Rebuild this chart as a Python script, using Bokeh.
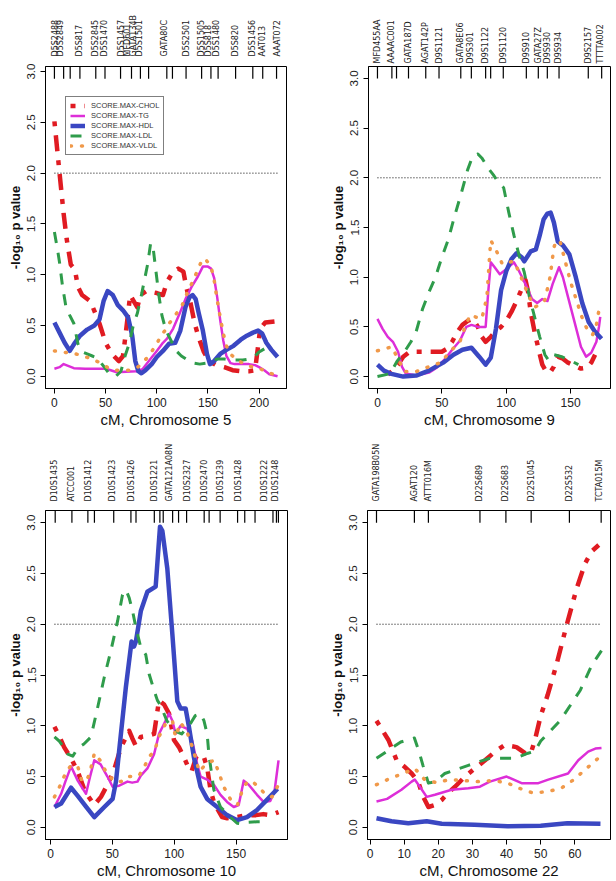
import math
from bokeh.plotting import figure
from bokeh.models import (Range1d, FixedTicker, PrintfTickFormatter, LinearAxis,
                          Legend, LegendItem)
from bokeh.layouts import column, row
from bokeh.embed import file_html
from bokeh.resources import INLINE

# ---------------- Chromosome 5 ----------------
chr5_chol_cm = [0, 5, 9, 12, 16, 20, 23, 27, 35, 40, 44, 50, 56, 63, 67, 70, 74, 78, 81, 84, 90, 100,
                106, 110, 116, 121, 126, 129, 133, 137, 141, 146, 151, 158, 166, 174, 182, 190, 196,
                199, 201, 206, 215]
chr5_chol = [2.51, 2.0, 1.6, 1.35, 1.1, 1.05, 0.88, 0.8, 0.74, 0.62, 0.52, 0.33, 0.22, 0.15, 0.2, 0.45,
             0.8, 0.73, 0.68, 0.8, 0.84, 0.82, 0.8, 0.93, 1.03, 1.06, 1.03, 0.87, 0.72, 0.52, 0.38, 0.24,
             0.15, 0.11, 0.09, 0.06, 0.05, 0.05, 0.06, 0.3, 0.47, 0.53, 0.54]
chr5_tg_cm = [0, 5, 9, 14, 19, 30, 40, 50, 55, 61, 70, 80, 86, 93, 100, 106, 110, 116, 122, 128, 134,
              140, 145, 150, 153, 156, 159, 162, 165, 168, 172, 176, 182, 190, 196, 200, 205, 210, 214, 218]
chr5_tg = [0.075, 0.09, 0.12, 0.1, 0.08, 0.075, 0.075, 0.075, 0.06, 0.04, 0.045, 0.05, 0.07, 0.16, 0.25,
           0.33, 0.37, 0.47, 0.61, 0.76, 0.88, 0.98, 1.08, 1.08, 1.06, 0.97, 0.78, 0.55, 0.35, 0.2, 0.13,
           0.12, 0.12, 0.12, 0.11, 0.09, 0.06, 0.02, 0.01, 0.0]
chr5_hdl_cm = [0, 5, 10, 15, 20, 25, 32, 39, 44, 48, 52, 57, 62, 67, 72, 76, 79, 82, 85, 89, 95, 100,
               106, 112, 118, 123, 128, 132, 135, 138, 141, 145, 149, 152, 156, 162, 168, 175, 182, 188,
               194, 199, 203, 207, 212, 218]
chr5_hdl = [0.53, 0.43, 0.33, 0.25, 0.33, 0.4, 0.46, 0.5, 0.56, 0.74, 0.84, 0.8, 0.7, 0.65, 0.58, 0.4,
            0.15, 0.05, 0.03, 0.06, 0.12, 0.19, 0.25, 0.32, 0.33, 0.45, 0.68, 0.78, 0.8, 0.76, 0.62, 0.45,
            0.22, 0.12, 0.15, 0.22, 0.26, 0.3, 0.36, 0.4, 0.43, 0.45, 0.42, 0.33, 0.26, 0.19]
chr5_ldl_cm = [0, 3, 5, 8, 11, 15, 19, 23, 27, 32, 37, 42, 48, 54, 60, 65, 69, 73, 77, 81, 85, 88, 91,
               94, 96, 99, 102, 105, 109, 114, 119, 124, 130, 136, 142, 148, 154, 160, 166, 172, 178,
               184, 190, 196, 200, 205, 210]
chr5_ldl = [1.42, 1.25, 1.12, 0.88, 0.7, 0.6, 0.52, 0.32, 0.24, 0.22, 0.2, 0.18, 0.1, 0.02, 0.0, 0.05,
            0.2, 0.32, 0.5, 0.62, 0.8, 0.95, 1.1, 1.31, 1.3, 1.05, 0.8, 0.6, 0.45, 0.35, 0.25, 0.2, 0.16,
            0.13, 0.12, 0.13, 0.16, 0.17, 0.17, 0.16, 0.16, 0.16, 0.17, 0.2, 0.24, 0.27, 0.3]
chr5_vldl_cm = [0, 7, 14, 21, 28, 34, 41, 47, 53, 58, 66, 73, 80, 86, 92, 96, 100, 104, 108, 112, 116,
                120, 124, 128, 132, 136, 140, 144, 147, 150, 153, 156, 159, 162, 165, 168, 172, 177,
                184, 190, 196, 202, 208, 214, 218]
chr5_vldl = [0.25, 0.24, 0.23, 0.22, 0.2, 0.18, 0.15, 0.12, 0.08, 0.06, 0.06, 0.06, 0.08, 0.13, 0.2,
             0.26, 0.32, 0.4, 0.45, 0.52, 0.57, 0.63, 0.68, 0.78, 0.87, 0.95, 1.05, 1.14, 1.16, 1.12,
             1.08, 0.95, 0.75, 0.58, 0.42, 0.3, 0.22, 0.17, 0.13, 0.1, 0.09, 0.07, 0.04, 0.02, 0.0]
chr5_marker_cm = [0, 9, 15.4, 24.9, 40.4, 49.4, 64.6, 75.3, 84, 92, 109.8, 115.3, 128.6, 143.8, 152.9,
                  159.9, 177, 193.8, 203.5, 217]
chr5_label_cm = [1, 5.8, 24.9, 40.4, 49.4, 65.3, 71.7, 76.9, 83.3, 107.5, 129.3, 143.8, 150.2, 158.3,
                 177, 193.8, 203.5, 218]
chr5_label_names = ["D5S2488", "D5S2849", "D5S817", "D5S2845", "D5S1470", "D5S1457", "MFD601",
                    "GATA134B", "D5S1501", "GATA80C", "D5S2501", "D5S1505", "D5S818", "D5S1480",
                    "D5S820", "D5S1456", "AAT013", "AAAT072"]
chr5_xticks = [0, 50, 100, 150, 200]

# ---------------- Chromosome 9 ----------------
chr9_chol_cm = [8, 12, 16, 20, 25, 30, 40, 50, 54, 58, 62, 66, 70, 74, 78, 81, 84, 88, 92, 96, 100, 104,
                108, 112, 115, 117, 119, 122, 125, 128, 131, 134, 137, 140, 144, 148, 153, 158, 163,
                166, 169]
chr9_chol = [0.02, 0.06, 0.12, 0.2, 0.25, 0.25, 0.25, 0.25, 0.28, 0.35, 0.45, 0.52, 0.56, 0.58, 0.5,
             0.4, 0.35, 0.4, 0.46, 0.5, 0.56, 0.65, 0.76, 0.88, 0.97, 0.85, 0.65, 0.45, 0.28, 0.12,
             0.05, 0.04, 0.1, 0.2, 0.18, 0.14, 0.11, 0.08, 0.09, 0.14, 0.22]
chr9_tg_cm = [0, 4, 8, 12, 16, 19, 22, 30, 40, 46, 52, 58, 64, 69, 73, 78, 84, 86, 88, 91, 95, 100, 106,
              110, 115, 120, 124, 128, 132, 136, 141, 144, 148, 153, 158, 162, 166, 170, 172, 173]
chr9_tg = [0.58, 0.48, 0.4, 0.35, 0.25, 0.1, 0.03, 0.01, 0.04, 0.09, 0.17, 0.27, 0.36, 0.5, 0.52, 0.5,
           0.5, 0.85, 1.15, 1.1, 1.03, 1.08, 1.15, 1.06, 0.93, 0.78, 0.74, 0.78, 0.76, 0.93, 1.1, 1.0,
           0.8, 0.55, 0.3, 0.2, 0.24, 0.35, 0.5, 0.6]
chr9_hdl_cm = [0, 5, 10, 20, 30, 40, 51, 59, 66, 73, 79, 84, 88, 92, 96, 100, 104, 108, 112, 114, 119,
               123, 126, 129, 132, 134.5, 137, 140, 144, 149, 154, 159, 164, 169, 174]
chr9_hdl = [0.12, 0.06, 0.03, 0.0, 0.01, 0.06, 0.14, 0.22, 0.27, 0.29, 0.2, 0.12, 0.19, 0.48, 0.87,
            1.06, 1.18, 1.24, 1.2, 1.16, 1.26, 1.28, 1.42, 1.58, 1.64, 1.65, 1.55, 1.36, 1.32, 1.23,
            1.0, 0.74, 0.55, 0.45, 0.38]
chr9_ldl_cm = [0, 10, 15, 21, 26, 30, 35, 40, 45, 50, 55, 60, 65, 70, 74, 78, 81, 84, 87, 90, 94, 98,
               102, 106, 110, 114, 118, 122, 126, 130, 133, 137, 143, 150, 156]
chr9_ldl = [0.0, 0.03, 0.15, 0.25, 0.35, 0.45, 0.68, 0.85, 1.0, 1.2, 1.38, 1.62, 1.84, 2.08, 2.22,
            2.24, 2.2, 2.14, 2.08, 2.03, 1.95, 1.9, 1.65, 1.42, 1.22, 1.05, 0.8, 0.6, 0.4, 0.22, 0.16,
            0.22, 0.2, 0.16, 0.12]
chr9_vldl_cm = [0, 6, 11, 16, 21, 30, 40, 49, 57, 64, 68, 72, 76, 81, 85, 87, 88, 91, 94, 97, 102, 106,
                110, 114, 118, 122, 126, 130, 134, 137, 139, 142, 146, 150, 155, 160, 164, 167, 170, 172]
chr9_vldl = [0.26, 0.28, 0.3, 0.18, 0.05, 0.05, 0.1, 0.14, 0.26, 0.35, 0.5, 0.62, 0.6, 0.58, 0.8, 1.2,
             1.37, 1.3, 1.22, 1.13, 1.15, 1.16, 1.05, 0.92, 0.8, 0.7, 0.72, 0.77, 1.0, 1.3, 1.37, 1.35,
             1.15, 0.95, 0.75, 0.55, 0.45, 0.42, 0.52, 0.67]
chr9_marker_cm = [0, 11.2, 14.8, 24.1, 37.5, 47.8, 64.7, 72.9, 84, 87.9, 97.7, 115.6, 124.9, 131.9,
                  141, 163.7, 174.1]
chr9_label_cm = [0, 11.1, 23.8, 37.5, 47.9, 64.2, 72.4, 83.6, 97.8, 115.6, 124.9, 131.9, 140.4, 163.7,
                 173.3]
chr9_label_names = ["MFD455AA", "AAAAC001", "GATA187D", "AGAT142P", "D9S1121", "GATA8E06", "D9S301",
                    "D9S1122", "D9S1120", "D9S910", "GATA27Z", "D9S930", "D9S934", "D9S2157",
                    "TTTTA002"]
chr9_xticks = [0, 50, 100, 150]

# ---------------- Chromosome 10 ----------------
chr10_chol_cm = [3.2, 7, 11, 16.6, 22, 28, 35.4, 40.8, 46, 51, 57, 63.6, 66, 69, 73, 78.3, 83.7, 87.7,
                 91.8, 95.8, 99.8, 103.8, 107.9, 111, 114, 118, 121.3, 124, 126.6, 129.3, 132, 135,
                 138.7, 142.7, 150, 158.8, 166, 172, 178, 184.3]
chr10_chol = [0.99, 0.9, 0.79, 0.68, 0.55, 0.35, 0.22, 0.3, 0.42, 0.55, 0.79, 0.95, 0.88, 0.8, 0.89,
              0.9, 0.92, 1.25, 1.21, 1.12, 0.86, 0.79, 0.69, 0.6, 0.55, 0.7, 0.72, 0.69, 0.59, 0.37,
              0.25, 0.18, 0.1, 0.09, 0.1, 0.12, 0.12, 0.13, 0.12, 0.15]
chr10_tg_cm = [3.2, 8.6, 12, 16.6, 22, 25, 28.7, 32, 35.4, 40.5, 46, 50.2, 55.5, 62.2, 66, 70.3, 73,
               78.3, 83.7, 87.7, 91.8, 95.8, 98.5, 101.1, 105.2, 110.5, 114.6, 118.6, 121.3, 126.6,
               132, 137.4, 142.7, 148.1, 152.1, 156.2, 160.2, 166.9, 172.2, 177.6, 181, 184.3]
chr10_tg = [0.2, 0.33, 0.45, 0.6, 0.46, 0.4, 0.33, 0.5, 0.66, 0.62, 0.5, 0.4, 0.41, 0.45, 0.44, 0.45,
            0.51, 0.58, 0.72, 0.92, 1.02, 1.12, 1.05, 0.92, 1.0, 0.97, 0.85, 0.62, 0.5, 0.47, 0.42,
            0.32, 0.25, 0.2, 0.22, 0.46, 0.42, 0.32, 0.25, 0.26, 0.35, 0.66]
chr10_hdl_cm = [3.2, 8.6, 16.6, 22, 29, 35.4, 43.5, 50.2, 52.9, 56.9, 60.9, 65.5, 67.5, 69, 73, 78.3,
                85, 88.5, 90.4, 94.4, 98.5, 102.5, 105.2, 109.2, 111.9, 115.9, 121.3, 126.6, 134.7,
                142.7, 150.8, 158.8, 166.9, 174.9, 183.5]
chr10_hdl = [0.2, 0.235, 0.39, 0.31, 0.2, 0.1, 0.2, 0.28, 0.45, 0.92, 1.38, 1.83, 1.78, 1.83, 2.13,
             2.32, 2.37, 2.96, 2.92, 2.55, 1.9, 1.24, 1.17, 1.17, 0.99, 0.69, 0.4, 0.28, 0.2, 0.12,
             0.07, 0.1, 0.17, 0.27, 0.38]
chr10_ldl_cm = [3.2, 7, 11, 14, 18, 22, 27, 32.7, 38.1, 43.5, 48.8, 54.2, 58.2, 60.9, 63.6, 66.3, 69,
                73, 77, 79.7, 83.7, 86.4, 89, 94, 100, 106, 112, 117, 121.3, 124, 126.6, 128, 132,
                137.4, 145.4, 150.8, 156, 160, 166.9, 174.9]
chr10_ldl = [0.89, 0.85, 0.78, 0.72, 0.7, 0.78, 0.82, 0.89, 1.18, 1.48, 1.74, 2.03, 2.29, 2.34, 2.26,
             2.13, 1.97, 1.77, 1.7, 1.51, 1.35, 1.25, 1.2, 1.05, 0.95, 0.92, 1.0, 1.1, 1.12, 1.05,
             0.92, 0.72, 0.37, 0.2, 0.1, 0.04, 0.03, 0.05, 0.055, 0.055]
chr10_vldl_cm = [3.2, 8.6, 12, 16.6, 22, 25, 29, 32, 35.5, 40, 46, 52, 57, 62.2, 67, 71.6, 76, 80, 84,
                 88, 93, 98.5, 101, 105, 110, 115, 120.2, 124, 128, 132.3, 136.3, 140, 145.7, 151.1,
                 155.2, 159, 163.2, 168, 174, 179, 183.4]
chr10_vldl = [0.3, 0.43, 0.53, 0.61, 0.6, 0.47, 0.45, 0.55, 0.73, 0.66, 0.52, 0.45, 0.45, 0.5, 0.5,
              0.51, 0.6, 0.7, 0.75, 0.9, 1.02, 1.05, 0.89, 1.03, 0.95, 0.78, 0.55, 0.6, 0.64, 0.66,
              0.53, 0.4, 0.27, 0.22, 0.37, 0.45, 0.45, 0.4, 0.32, 0.3, 0.4]
chr10_marker_cm = [3.8, 17.3, 30.2, 35.5, 51.1, 65, 69.1, 83.9, 88.4, 91.1, 98.7, 103.5, 110, 124.2,
                   128.2, 137.1, 151.2, 157, 165.3, 179.8, 182.6, 184.2]
chr10_label_cm = [3.2, 17.3, 30.6, 50.3, 65.1, 83.9, 96, 110.8, 124.2, 137.1, 151.6, 172.6, 182]
chr10_label_names = ["D10S1435", "ATCC001", "D10S1412", "D10S1423", "D10S1426", "D10S1221",
                     "GATA121A08N", "D10S2327", "D10S2470", "D10S1239", "D10S1428", "D10S1222",
                     "D10S1248"]
chr10_xticks = [0, 50, 100, 150]

# ---------------- Chromosome 22 ----------------
chr22_chol_cm = [1.9, 5.4, 7.8, 10, 12.2, 14.1, 15.6, 17.1, 19, 21, 22.9, 24.9, 27.8, 30.7, 33.7,
                 36.6, 39.5, 42.9, 45.4, 47, 48.3, 50, 52, 54.6, 57.5, 60.5, 63, 65, 67]
chr22_chol = [1.05, 0.86, 0.66, 0.6, 0.53, 0.45, 0.3, 0.2, 0.22, 0.27, 0.34, 0.4, 0.5, 0.58, 0.66,
              0.745, 0.81, 0.79, 0.73, 0.72, 0.86, 1.1, 1.3, 1.6, 1.98, 2.35, 2.6, 2.72, 2.78]
chr22_tg_cm = [1.9, 5, 9.2, 12.2, 13.1, 15, 16.6, 19, 23.9, 28.8, 32.2, 35.1, 40, 44.4, 49.3, 52.2, 58,
               61, 63.9, 66, 67.8]
chr22_tg = [0.255, 0.28, 0.37, 0.45, 0.47, 0.38, 0.3, 0.32, 0.37, 0.385, 0.4, 0.45, 0.5, 0.435, 0.435,
            0.47, 0.53, 0.66, 0.745, 0.775, 0.78]
chr22_hdl_cm = [1.9, 6.3, 11.2, 16.6, 21, 30.6, 40.3, 50, 57.8, 67.5]
chr22_hdl = [0.09, 0.06, 0.04, 0.06, 0.035, 0.025, 0.01, 0.015, 0.04, 0.035]
chr22_ldl_cm = [1.9, 5, 9, 13, 14.5, 15.5, 17.1, 19, 21.9, 28.8, 32.2, 35.1, 39.5, 42.4, 46.3, 48.3,
                50, 55.7, 61.6, 65, 67.8]
chr22_ldl = [0.68, 0.75, 0.84, 0.88, 0.73, 0.61, 0.435, 0.45, 0.53, 0.61, 0.65, 0.68, 0.68, 0.68, 0.73,
             0.75, 0.85, 1.05, 1.35, 1.6, 1.74]
chr22_vldl_cm = [1.9, 5.8, 9.7, 13.1, 16, 19.4, 23.3, 27.5, 31.6, 35.9, 40, 43.7, 47.6, 51.9, 56,
                 59.7, 64.1, 67.5]
chr22_vldl = [0.42, 0.48, 0.53, 0.58, 0.47, 0.44, 0.47, 0.46, 0.45, 0.46, 0.44, 0.385, 0.34, 0.35,
              0.385, 0.47, 0.6, 0.7]
chr22_marker_cm = [1.9, 13, 17.1, 32.2, 39.8, 47.2, 58.4, 67.7]
chr22_label_cm = [1.9, 13, 17.1, 32.2, 39.8, 47.2, 58.4, 67.3]
chr22_label_names = ["GATA198B05N", "AGAT120", "ATTT016M", "D22S689", "D22S683", "D22S1045",
                     "D22S532", "TCTA015M"]
chr22_xticks = [0, 10, 20, 30, 40, 50, 60]

# ---------------- shared settings ----------------
traits = ["CHOL", "TG", "HDL", "LDL", "VLDL"]
y_ticks = [0.0, 0.5, 1.0, 1.5, 2.0, 2.5, 3.0]
threshold = 2.0

STYLE = {
    "CHOL": dict(line_color="#e01b22", line_width=4.5, line_dash="5 9 16 9"),
    "TG": dict(line_color="#dd2ed8", line_width=2.5),
    "HDL": dict(line_color="#3a47c2", line_width=4.5),
    "LDL": dict(line_color="#2f9c4b", line_width=3, line_dash="11 10"),
    "VLDL": dict(line_color="#f0994a", line_width=3.5, line_dash="1 10", line_cap="round"),
}
FONT = "Liberation Sans"
MARKER_FONT = "DejaVu Sans"


def make_panel(series, marker_cm, label_cm, label_names, xticks, xlabel,
               border_left, border_right, border_top, border_bottom, height,
               top_pad=0.12, name_standoff=9, legend=False):
    all_x = [x for xs, _ in series for x in xs]
    lo, hi = min(all_x), max(all_x)
    pad = 0.04 * (hi - lo)
    ylo, yhi = 0.0, 3.0
    bottom = ylo - 0.04 * (yhi - ylo)
    top = yhi + top_pad

    p = figure(width=308, height=height, output_backend="svg", toolbar_location=None,
               x_range=Range1d(lo - pad, hi + pad), y_range=Range1d(bottom, top),
               min_border_left=border_left, min_border_right=border_right,
               min_border_top=border_top, min_border_bottom=border_bottom)
    p.background_fill_color = "white"
    p.border_fill_color = "white"
    p.outline_line_color = "black"
    p.outline_line_width = 1
    p.grid.visible = False

    # significance threshold
    p.line([lo, hi], [threshold, threshold], line_color="black", line_width=1, line_dash="1 2")

    renderers = []
    for name, (xs, ys) in zip(traits, series):
        r = p.line(xs, ys, line_join="round", **STYLE[name])
        renderers.append(r)

    # marker positions as a rug along the top edge
    n = len(marker_cm)
    p.segment(x0=marker_cm, y0=[top] * n, x1=marker_cm, y1=[top - 0.12] * n,
              line_color="black", line_width=1.2)

    xa = p.below[0]
    ya = p.left[0]

    # marker names on an axis above the frame
    names_axis = LinearAxis(ticker=FixedTicker(ticks=label_cm),
                            major_label_overrides={float(c): s for c, s in zip(label_cm, label_names)})
    names_axis.major_label_orientation = math.pi / 2
    names_axis.axis_line_color = None
    names_axis.major_tick_line_color = None
    names_axis.minor_tick_line_color = None
    names_axis.major_tick_in = 0
    names_axis.major_tick_out = 0
    names_axis.major_label_standoff = name_standoff
    names_axis.major_label_text_font = MARKER_FONT
    names_axis.major_label_text_font_size = "8px"
    names_axis.major_label_text_color = "#222222"
    p.add_layout(names_axis, "above")

    xa.ticker = FixedTicker(ticks=xticks)
    ya.ticker = FixedTicker(ticks=y_ticks)
    ya.formatter = PrintfTickFormatter(format="%.1f")
    ya.major_label_orientation = "parallel"
    for ax in (xa, ya):
        ax.minor_tick_line_color = None
        ax.major_tick_in = 0
        ax.major_tick_out = 5
        ax.axis_line_color = "black"
        ax.major_tick_line_color = "black"
        ax.major_label_text_font = FONT
        ax.major_label_text_color = "#222222"
        ax.axis_label_text_font = FONT
        ax.axis_label_text_color = "#111111"
    xa.major_label_text_font_size = "12px"
    xa.major_label_standoff = 4
    xa.axis_label = xlabel
    xa.axis_label_text_font_size = "15px"
    xa.axis_label_text_font_style = "normal"
    xa.axis_label_standoff = 1
    ya.major_label_text_font_size = "11.5px"
    ya.major_label_standoff = 5
    ya.axis_label = "-log\u2081\u2080 p value"
    ya.axis_label_text_font_size = "13px"
    ya.axis_label_text_font_style = "bold"
    ya.axis_label_standoff = 2

    if legend:
        items = [LegendItem(label="SCORE.MAX-" + name, renderers=[r])
                 for name, r in zip(traits, renderers)]
        lg = Legend(items=items, location=(20, 233), orientation="vertical")
        lg.label_text_font = FONT
        lg.label_text_font_size = "7.5px"
        lg.label_text_color = "#333333"
        lg.label_height = 9
        lg.glyph_height = 9
        lg.glyph_width = 15
        lg.label_standoff = 6
        lg.spacing = 1
        lg.padding = 4
        lg.margin = 0
        lg.border_line_color = "black"
        lg.border_line_width = 1
        lg.background_fill_alpha = 1
        p.add_layout(lg)
    return p


p5 = make_panel([(chr5_chol_cm, chr5_chol), (chr5_tg_cm, chr5_tg), (chr5_hdl_cm, chr5_hdl),
                 (chr5_ldl_cm, chr5_ldl), (chr5_vldl_cm, chr5_vldl)],
                chr5_marker_cm, chr5_label_cm, chr5_label_names, chr5_xticks, "cM, Chromosome 5",
                45, 22, 66, 52, 440, top_pad=0.05, name_standoff=10, legend=True)
p9 = make_panel([(chr9_chol_cm, chr9_chol), (chr9_tg_cm, chr9_tg), (chr9_hdl_cm, chr9_hdl),
                 (chr9_ldl_cm, chr9_ldl), (chr9_vldl_cm, chr9_vldl)],
                chr9_marker_cm, chr9_label_cm, chr9_label_names, chr9_xticks, "cM, Chromosome 9",
                60, 6, 57, 52, 440, name_standoff=3)
p10 = make_panel([(chr10_chol_cm, chr10_chol), (chr10_tg_cm, chr10_tg), (chr10_hdl_cm, chr10_hdl),
                  (chr10_ldl_cm, chr10_ldl), (chr10_vldl_cm, chr10_vldl)],
                 chr10_marker_cm, chr10_label_cm, chr10_label_names, chr10_xticks,
                 "cM, Chromosome 10", 45, 21, 68, 41, 441)
p22 = make_panel([(chr22_chol_cm, chr22_chol), (chr22_tg_cm, chr22_tg), (chr22_hdl_cm, chr22_hdl),
                  (chr22_ldl_cm, chr22_ldl), (chr22_vldl_cm, chr22_vldl)],
                 chr22_marker_cm, chr22_label_cm, chr22_label_names, chr22_xticks,
                 "cM, Chromosome 22", 59, 6, 68, 41, 441)

layout = column(row(p5, p9), row(p10, p22))
open("out.html", "w").write(file_html(layout, INLINE))
